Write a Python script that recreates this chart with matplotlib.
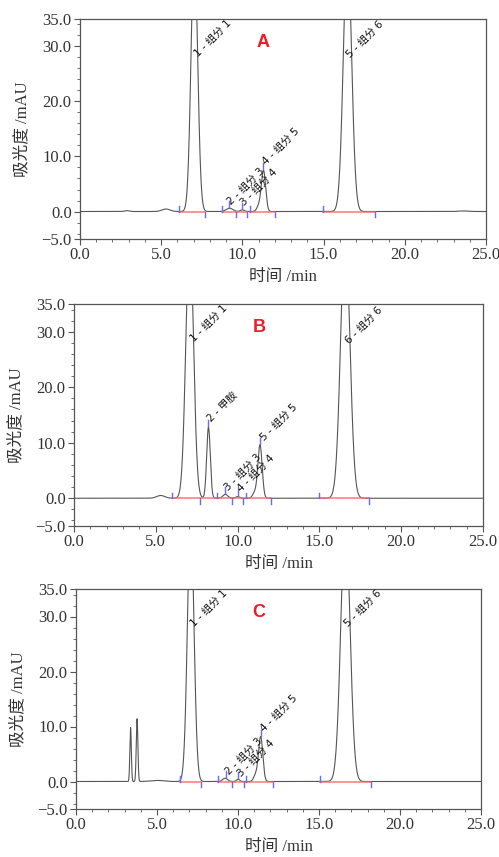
import numpy as np
import matplotlib
matplotlib.use("Agg")
import matplotlib.pyplot as plt
from matplotlib.ticker import MultipleLocator, FixedLocator, FuncFormatter

# ---------------- data ----------------
# Panel A
A_rt     = [2.9, 5.3, 7.04, 9.2, 10.0, 11.02, 11.30, 16.47, 23.6]
A_height = [0.15, 0.45, 48.0, 0.6, 0.3, 1.0, 7.4, 48.0, 0.1]
A_sigma  = [0.15, 0.25, 0.2, 0.2, 0.12, 0.13, 0.13, 0.25, 0.3]
A_starts = [6.10, 8.74, 10.45, 14.98]
A_ends   = [7.72, 9.59, 10.28, 12.01, 18.17]
A_apex   = [9.19, 9.95, 11.29]
A_apex_h = [0.6, 0.3, 7.5]
A_base   = [(6.10, 7.72), (8.74, 10.28), (10.45, 12.01), (14.98, 18.17)]
A_labels = ["1 - 组分 1", "2 - 组分 3", "3 - 组分 4", "4 - 组分 5", "5 - 组分 6"]
A_lab_x  = [7.12, 9.17, 9.99, 11.35, 16.52]
A_lab_y  = [28.5, 1.6, 1.4, 8.8, 28.3]

# Panel B
B_rt     = [5.3, 7.07, 8.22, 9.25, 10.0, 11.05, 11.37, 16.58]
B_height = [0.5, 48.0, 12.8, 0.7, 0.3, 1.0, 9.6, 48.0]
B_sigma  = [0.25, 0.23, 0.11, 0.15, 0.12, 0.13, 0.13, 0.28]
B_starts = [5.97, 8.76, 10.49, 14.99]
B_ends   = [7.72, 9.68, 10.31, 12.04, 18.05]
B_apex   = [8.22, 9.23, 10.0, 11.39]
B_apex_h = [12.8, 0.7, 0.3, 9.6]
B_base   = [(5.97, 8.76), (8.76, 10.31), (10.49, 12.04), (14.99, 18.05)]
B_labels = ["1 - 组分 1", "2 - 甲胺", "3 - 组分 3", "4 - 组分 4", "5 - 组分 5", "6 - 组分 6"]
B_lab_x  = [7.19, 8.27, 9.29, 10.1, 11.47, 16.67]
B_lab_y  = [28.5, 14.0, 1.7, 1.4, 10.75, 28.2]

# Panel C
C_rt     = [3.37, 3.77, 5.0, 7.08, 9.2, 10.0, 11.1, 11.40, 16.63]
C_height = [9.8, 11.4, 0.2, 48.0, 0.6, 0.4, 1.2, 8.1, 48.0]
C_sigma  = [0.045, 0.05, 0.4, 0.2, 0.15, 0.1, 0.13, 0.13, 0.28]
C_starts = [6.44, 8.77, 10.51, 15.08]
C_ends   = [7.74, 9.65, 10.35, 12.14, 18.21]
C_apex   = [9.24, 10.02, 11.4]
C_apex_h = [0.6, 0.4, 8.1]
C_base   = [(6.44, 7.74), (8.77, 10.35), (10.51, 12.14), (15.08, 18.21)]
C_labels = ["1 - 组分 1", "2 - 组分 3", "3 - 组分 4", "4 - 组分 5", "5 - 组分 6"]
C_lab_x  = [7.14, 9.3, 10.08, 11.46, 16.7]
C_lab_y  = [28.5, 1.5, 1.2, 9.4, 28.5]

panel_names = ["A", "B", "C"]
y_ticks = [-5, 0, 10, 20, 30, 35]
x_ticks = [0, 5, 10, 15, 20, 25]

# ---------------- drawing ----------------
W, H = 499, 857
fig = plt.figure(figsize=(W / 100, H / 100), dpi=100)

rects = [
    (80 / W, 1 - 239 / H, 406 / W, 220 / H),
    (74 / W, 1 - 526 / H, 409 / W, 222 / H),
    (76 / W, 1 - 809 / H, 405 / W, 220 / H),
]

panels = [
    (A_rt, A_height, A_sigma, A_starts, A_ends, A_apex, A_apex_h, A_base, A_labels, A_lab_x, A_lab_y),
    (B_rt, B_height, B_sigma, B_starts, B_ends, B_apex, B_apex_h, B_base, B_labels, B_lab_x, B_lab_y),
    (C_rt, C_height, C_sigma, C_starts, C_ends, C_apex, C_apex_h, C_base, C_labels, C_lab_x, C_lab_y),
]

serif_cjk = ["Liberation Serif", "Noto Sans CJK SC"]
sans_cjk = ["DejaVu Sans", "Noto Sans CJK SC"]
t = np.linspace(0, 25, 6001)
blue = "#6a6aff"

for ax_rect, pdata, name in zip(rects, panels, panel_names):
    rt, hts, sig, starts, ends, apex, apex_h, base, labs, lx, ly = pdata
    ax = fig.add_axes(ax_rect)
    signal = np.zeros_like(t)
    for c, h, s in zip(rt, hts, sig):
        signal += h * np.exp(-0.5 * ((t - c) / s) ** 2)
    ax.plot(t, signal, color="#555555", lw=0.8, zorder=3)

    for (x0, x1) in base:
        ax.plot([x0, x1], [0, 0], color="#ff6a6a", lw=1.2, zorder=4, alpha=0.85)
    for x in starts:
        ax.plot([x, x], [0, 1.0], color=blue, lw=1.0, zorder=5)
    for x in ends:
        ax.plot([x, x], [0, -1.0], color=blue, lw=1.0, zorder=5)
    for x, h in zip(apex, apex_h):
        ax.plot([x, x], [h + 0.2, h + 1.3], color=blue, lw=1.0, zorder=5)

    for s, x, y in zip(labs, lx, ly):
        ax.text(x, y, s, rotation=45, rotation_mode="anchor", ha="left", va="center",
                fontsize=7.5, color="#111111", family=sans_cjk, zorder=6)

    ax.text(11.3, 30.8, name, fontsize=13, fontweight="bold", color="#ee1c25",
            family="Liberation Sans", ha="center", va="center")

    ax.set_xlim(0, 25)
    ax.set_ylim(-5, 35)
    ax.xaxis.set_major_locator(FixedLocator(x_ticks))
    ax.xaxis.set_minor_locator(MultipleLocator(1))
    ax.yaxis.set_major_locator(FixedLocator(y_ticks))
    ax.yaxis.set_minor_locator(MultipleLocator(2))
    fmt = FuncFormatter(lambda v, p: ("%.1f" % v).replace("-", "\u2212"))
    ax.xaxis.set_major_formatter(fmt)
    ax.yaxis.set_major_formatter(fmt)
    ax.tick_params(which="major", direction="out", length=4, width=0.8, color="#555555",
                   labelsize=12, labelcolor="#333333", pad=2)
    ax.tick_params(which="minor", direction="out", length=2.5, width=0.6, color="#555555")
    for lab in ax.get_xticklabels() + ax.get_yticklabels():
        lab.set_family("Liberation Serif")
    for sp in ax.spines.values():
        sp.set_color("#555555")
        sp.set_linewidth(0.9)
    ax.set_xlabel("时间 /min", fontsize=12, family=serif_cjk, color="#333333", labelpad=4)
    ax.set_ylabel("吸光度 /mAU", fontsize=12, family=serif_cjk, color="#333333", labelpad=8)

fig.savefig("out.png", dpi=100)
